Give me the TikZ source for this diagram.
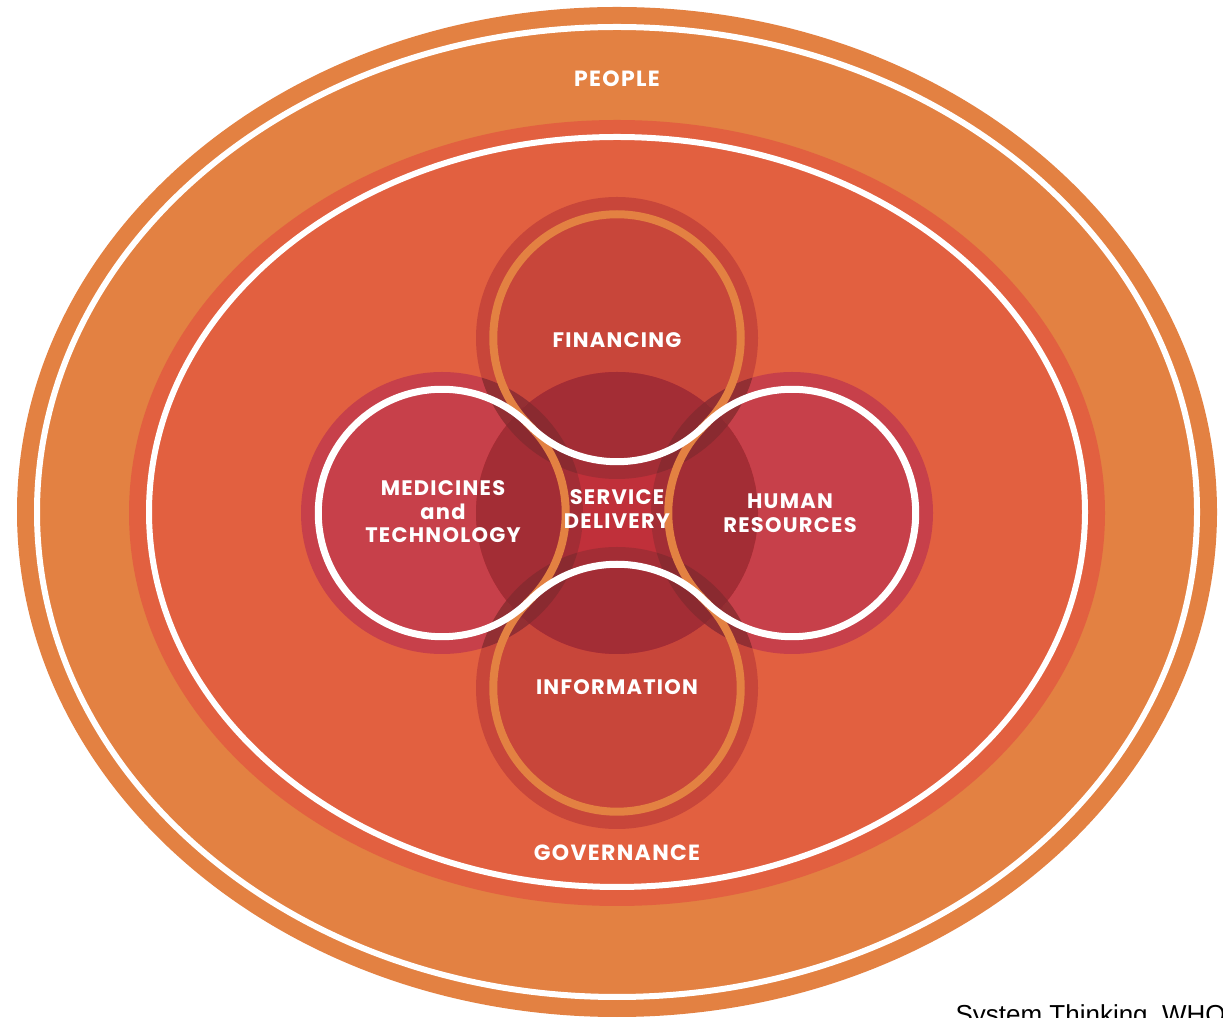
\documentclass[tikz,border=0pt]{standalone}
\usepackage{fontspec}
\setmainfont{Liberation Sans}
\newfontfamily\blockfont{Poppins}[LetterSpace=6]
\usepackage{tikz}
\definecolor{people}{RGB}{227, 129, 66}
\definecolor{gov}{RGB}{226, 96, 64}
\definecolor{finfill}{RGB}{200, 70, 58}
\definecolor{medfill}{RGB}{199, 64, 74}
\definecolor{servlight}{RGB}{192, 48, 58}
\definecolor{servdark}{RGB}{163, 45, 53}
\definecolor{lens}{RGB}{146, 47, 51}
\definecolor{lensdark}{RGB}{138, 42, 48}

\tikzset{
  blocktext/.style={text=white, align=center,
    font=\blockfont\bfseries\fontsize{21}{23.5}\selectfont},
  ringtext/.style={blocktext, font=\blockfont\bfseries\fontsize{22}{24}\selectfont}
}

\begin{document}
\begin{tikzpicture}[x=1pt, y=1pt]
  \useasboundingbox (0, 0) rectangle (1223, 1017);
  \fill [white] (0, 0) rectangle (1223, 1017);

  \coordinate (serv) at (617, 504);
  \coordinate (fin) at (617, 679);
  \coordinate (info) at (617, 329);
  \coordinate (med) at (442, 504);
  \coordinate (hr) at (792, 504);

  % people and governance
  \fill [people] (617, 505) ellipse [x radius=600, y radius=505];
  \draw [white, line width=6] (617, 505) ellipse [x radius=580, y radius=485];
  \fill [gov] (617, 504) ellipse [x radius=488, y radius=393];
  \draw [white, line width=6] (617, 505) ellipse [x radius=468, y radius=375];

  % the four blocks
  \foreach \c in {fin, info} \fill [finfill] (\c) circle (141);
  \foreach \c in {med, hr} \fill [medfill] (\c) circle (141);
  \foreach \a/\b in {fin/med, fin/hr, info/med, info/hr} {
    \begin{scope}
      \clip (\a) circle (141);
      \fill [lens] (\b) circle (141);
    \end{scope}
  }

  % service delivery in the middle
  \begin{scope}
    \clip (serv) circle (141);
    \fill [servlight] (serv) circle (141);
    \foreach \c in {fin, info, med, hr} \fill [servdark] (\c) circle (141);
    \foreach \a/\b in {fin/med, fin/hr, info/med, info/hr} {
      \begin{scope}
        \clip (\a) circle (141);
        \fill [lensdark] (\b) circle (141);
      \end{scope}
    }
  \end{scope}

  % woven rings
  \draw [people, line width=8] (fin) ++(225:123.74)
    arc [start angle=225, end angle=-45, radius=123.74]
    arc [start angle=135, end angle=225, radius=123.74]
    arc [start angle=45, end angle=-225, radius=123.74]
    arc [start angle=-45, end angle=45, radius=123.74] -- cycle;
  \draw [white, line width=7] (med) ++(45:123.74)
    arc [start angle=45, end angle=315, radius=123.74]
    arc [start angle=135, end angle=45, radius=123.74]
    arc [start angle=225, end angle=495, radius=123.74]
    arc [start angle=315, end angle=225, radius=123.74] -- cycle;

  \node [ringtext] (people) at (617, 938) {PEOPLE};
  \node [ringtext] (governance) at (617, 164) {GOVERNANCE};
  \node [blocktext] (financing) at (617, 677) {FINANCING};
  \node [blocktext] (information) at (617, 330) {INFORMATION};
  \node [blocktext] (medicines) at (443, 505) {MEDICINES\\and\\TECHNOLOGY};
  \node [blocktext] (human) at (790, 504) {HUMAN\\RESOURCES};
  \node [blocktext] (service) at (617, 508) {SERVICE\\DELIVERY};

  \node [anchor=base west, font=\fontsize{26}{30}\selectfont] (source)
    at (952, -6.5) {System Thinking, WHO};
\end{tikzpicture}
\end{document}
